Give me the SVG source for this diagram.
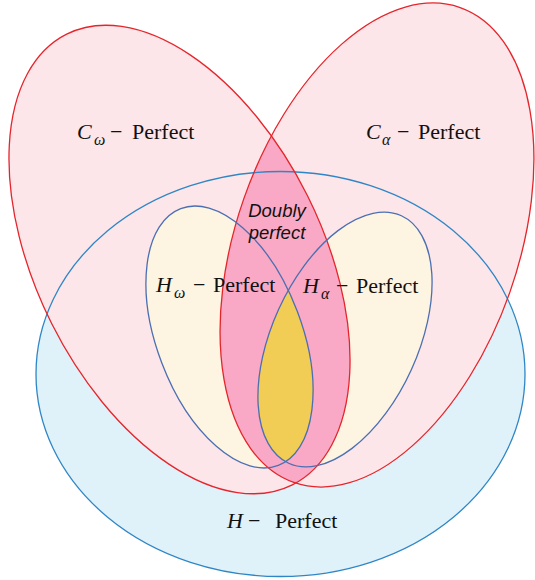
<svg xmlns="http://www.w3.org/2000/svg" width="535" height="580" viewBox="0 0 535 580">
<style>
.lbl{font-family:"Liberation Serif","Times New Roman",serif;font-size:22px;fill:#111}
.mi{font-style:italic}
.sub{font-style:italic;font-size:16px}
.dbl{font-family:"Liberation Sans",Arial,sans-serif;font-style:italic;font-size:18.5px;fill:#111}
.red{fill:none;stroke:#e5252c;stroke-width:1.3}
.hb{fill:none;stroke:#2f86c6;stroke-width:1.3}
.hs{fill:none;stroke:#4c6fb2;stroke-width:1.3}
</style>
<defs>
<ellipse id="eBig" cx="280.5" cy="374" rx="244.5" ry="202.5"/>
<ellipse id="eCw" cx="0" cy="0" rx="252" ry="143" transform="translate(179.5,259.5) rotate(63.4)"/>
<ellipse id="eCa" cx="0" cy="0" rx="251.6" ry="141" transform="translate(377,245) rotate(-70.7)"/>
<ellipse id="eHw" cx="0" cy="0" rx="137.4" ry="72.5" transform="translate(229.5,337) rotate(69.2)"/>
<ellipse id="eHa" cx="0" cy="0" rx="136" ry="72.9" transform="translate(345,339.5) rotate(-65.5)"/>
<clipPath id="clipCw"><use href="#eCw"/></clipPath>
<clipPath id="clipHw"><use href="#eHw"/></clipPath>
</defs>
<rect width="535" height="580" fill="#ffffff"/>
<g id="fills">
<use href="#eBig" fill="#dff2f9"/>
<use href="#eCw" fill="#fce6e9"/>
<use href="#eCa" fill="#fce6e9"/>
<use href="#eHw" fill="#fdf4e1"/>
<use href="#eHa" fill="#fdf4e1"/>
<use href="#eCa" fill="#f9a9c5" clip-path="url(#clipCw)"/>
<use href="#eHa" fill="#f1cd55" clip-path="url(#clipHw)"/>
</g>
<g id="H-perfect">
<use href="#eBig" class="hb"/>
<text class="lbl" y="528"><tspan class="mi" x="227">H</tspan><tspan x="248">−</tspan><tspan x="275">Perfect</tspan></text>
</g>
<g id="Cw-perfect">
<use href="#eCw" class="red"/>
<text class="lbl" y="139"><tspan class="mi" x="77">C</tspan><tspan class="sub" x="94" y="145">ω</tspan><tspan x="110" y="139">−</tspan><tspan x="132">Perfect</tspan></text>
</g>
<g id="Ca-perfect">
<use href="#eCa" class="red"/>
<text class="lbl" y="139"><tspan class="mi" x="366">C</tspan><tspan class="sub" x="382" y="145">α</tspan><tspan x="397" y="139">−</tspan><tspan x="418">Perfect</tspan></text>
</g>
<g id="Hw-perfect">
<use href="#eHw" class="hs"/>
<text class="lbl" y="292"><tspan class="mi" x="156">H</tspan><tspan class="sub" x="174" y="298">ω</tspan><tspan x="193" y="292">−</tspan><tspan x="213">Perfect</tspan></text>
</g>
<g id="Ha-perfect">
<use href="#eHa" class="hs"/>
<text class="lbl" y="293"><tspan class="mi" x="303">H</tspan><tspan class="sub" x="321" y="299">α</tspan><tspan x="336" y="293">−</tspan><tspan x="356">Perfect</tspan></text>
</g>
<g id="doubly-perfect">
<text class="dbl" text-anchor="middle"><tspan x="277" y="217">Doubly</tspan><tspan x="277" y="239">perfect</tspan></text>
</g>
<g id="connectors"></g>
</svg>
